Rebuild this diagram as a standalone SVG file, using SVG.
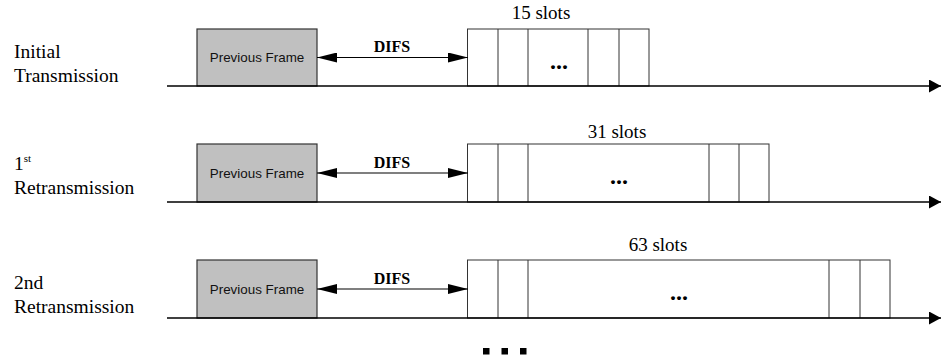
<svg xmlns="http://www.w3.org/2000/svg" width="941" height="362" viewBox="0 0 941 362">
  <style>
    .lbl { font-family: "Liberation Serif", "Times New Roman", serif; font-size: 19.5px; fill: #000; }
    .sup { font-family: "Liberation Serif", "Times New Roman", serif; font-size: 11px; fill: #000; }
    .slots { font-family: "Liberation Serif", "Times New Roman", serif; font-size: 19px; fill: #000; text-anchor: middle; }
    .difs { font-family: "Liberation Serif", "Times New Roman", serif; font-size: 16px; font-weight: bold; fill: #000; text-anchor: middle; }
    .frame-txt { font-family: "Liberation Sans", Arial, sans-serif; font-size: 13.4px; fill: #111; text-anchor: middle; }
    .frame { fill: #c0c0c0; stroke: #333; stroke-width: 1.2; }
    .slot { fill: #fff; stroke: #333; stroke-width: 1; }
    .div { stroke: #333; stroke-width: 1; }
    .axis { stroke: #000; stroke-width: 1.3; fill: none; }
    .difs-line { stroke: #000; stroke-width: 1.2; fill: none; }
    .dots { font-family: "Liberation Serif", "Times New Roman", serif; font-size: 24px; font-weight: bold; fill: #000; text-anchor: middle; }
  </style>
  <defs>
    <marker id="axisHead" markerWidth="12" markerHeight="13" refX="12" refY="6.5" orient="auto" markerUnits="userSpaceOnUse">
      <path d="M0,0 L12,6.5 L0,13 Z" fill="#000"/>
    </marker>
    <marker id="difsEnd" markerWidth="20" markerHeight="10" refX="20" refY="5" orient="auto" markerUnits="userSpaceOnUse">
      <path d="M0,0 L20,5 L0,10 Z" fill="#000"/>
    </marker>
    <marker id="difsStart" markerWidth="20" markerHeight="10" refX="0" refY="5" orient="auto" markerUnits="userSpaceOnUse">
      <path d="M20,0 L0,5 L20,10 Z" fill="#000"/>
    </marker>
  </defs>

  <!-- row labels -->
  <g id="label-initial">
    <text class="lbl" x="14" y="58">Initial</text>
    <text class="lbl" x="14" y="82">Transmission</text>
  </g>
  <g id="label-first">
    <text class="lbl" x="14" y="170">1<tspan class="sup" dy="-8">st</tspan></text>
    <text class="lbl" x="14" y="194">Retransmission</text>
  </g>
  <g id="label-second">
    <text class="lbl" x="14" y="289">2nd</text>
    <text class="lbl" x="14" y="313">Retransmission</text>
  </g>

  <!-- previous frames -->
  <g id="frame-1">
    <rect class="frame" x="197" y="29" width="120" height="57"/>
    <text class="frame-txt" x="257" y="62">Previous Frame</text>
  </g>
  <g id="frame-2">
    <rect class="frame" x="197" y="144" width="120" height="58"/>
    <text class="frame-txt" x="257" y="178">Previous Frame</text>
  </g>
  <g id="frame-3">
    <rect class="frame" x="197" y="260" width="120" height="58"/>
    <text class="frame-txt" x="257" y="294">Previous Frame</text>
  </g>

  <!-- contention windows -->
  <g id="window-15">
    <text class="slots" x="541" y="19">15 slots</text>
    <rect class="slot" x="467.5" y="29" width="181.5" height="57"/>
    <line class="div" x1="498" y1="29" x2="498" y2="86"/>
    <line class="div" x1="528" y1="29" x2="528" y2="86"/>
    <line class="div" x1="588" y1="29" x2="588" y2="86"/>
    <line class="div" x1="619" y1="29" x2="619" y2="86"/>
    <text class="dots" x="559" y="69">...</text>
  </g>
  <g id="window-31">
    <text class="slots" x="617" y="138">31 slots</text>
    <rect class="slot" x="467.5" y="144" width="301.5" height="58"/>
    <line class="div" x1="498" y1="144" x2="498" y2="202"/>
    <line class="div" x1="528" y1="144" x2="528" y2="202"/>
    <line class="div" x1="709" y1="144" x2="709" y2="202"/>
    <line class="div" x1="739" y1="144" x2="739" y2="202"/>
    <text class="dots" x="619" y="184">...</text>
  </g>
  <g id="window-63">
    <text class="slots" x="658" y="251">63 slots</text>
    <rect class="slot" x="467.5" y="260" width="422.5" height="58"/>
    <line class="div" x1="498" y1="260" x2="498" y2="318"/>
    <line class="div" x1="528" y1="260" x2="528" y2="318"/>
    <line class="div" x1="829" y1="260" x2="829" y2="318"/>
    <line class="div" x1="860" y1="260" x2="860" y2="318"/>
    <text class="dots" x="679" y="300">...</text>
  </g>

  <!-- DIFS labels -->
  <g id="difs-labels">
    <text class="difs" x="392" y="52">DIFS</text>
    <text class="difs" x="392" y="168">DIFS</text>
    <text class="difs" x="392" y="284">DIFS</text>
  </g>

  <!-- connectors: time axes and DIFS intervals -->
  <g id="connectors">
    <line class="axis" x1="167" y1="86" x2="941" y2="86" marker-end="url(#axisHead)"/>
    <line class="axis" x1="167" y1="202" x2="941" y2="202" marker-end="url(#axisHead)"/>
    <line class="axis" x1="167" y1="318" x2="941" y2="318" marker-end="url(#axisHead)"/>
    <line class="difs-line" x1="317" y1="57.5" x2="468" y2="57.5" marker-start="url(#difsStart)" marker-end="url(#difsEnd)"/>
    <line class="difs-line" x1="317" y1="173" x2="468" y2="173" marker-start="url(#difsStart)" marker-end="url(#difsEnd)"/>
    <line class="difs-line" x1="317" y1="289" x2="468" y2="289" marker-start="url(#difsStart)" marker-end="url(#difsEnd)"/>
  </g>

  <!-- continuation marks -->
  <g id="continuation">
    <rect x="483" y="348" width="6.5" height="6.5" fill="#000"/>
    <rect x="501.5" y="348" width="6.5" height="6.5" fill="#000"/>
    <rect x="520" y="348" width="6.5" height="6.5" fill="#000"/>
  </g>
</svg>
